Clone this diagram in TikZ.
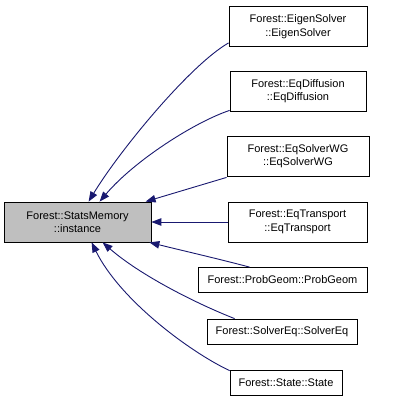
\documentclass[tikz,border=0pt]{standalone}
\usepackage{fontspec}
\setmainfont{Liberation Sans}
\usetikzlibrary{arrows.meta}
\definecolor{edgeblue}{HTML}{191970}
\definecolor{maingray}{HTML}{BFBFBF}
\tikzset{
  box/.style={draw=black, line width=0.8pt, inner sep=0pt, align=center,
    font=\fontsize{11}{13.5}\selectfont, anchor=center},
  tall/.style={minimum height=40pt},
  short/.style={minimum height=25pt},
  edge/.style={draw=edgeblue, line width=0.9pt,
    -{Triangle[length=10pt,width=7.5pt,fill=edgeblue]}}
}
\begin{document}
\begin{tikzpicture}[x=1pt,y=-1pt]
\useasboundingbox[fill=white] (0,0) rectangle (403,401);
\node[box,tall,fill=maingray,minimum width=147pt] (main) at (77.5,222) {Forest::StatsMemory\\::instance};
\node[box,tall,minimum width=138pt] (es) at (298,26.5) {Forest::EigenSolver\\::EigenSolver};
\node[box,tall,minimum width=136pt] (ed) at (298,91) {Forest::EqDiffusion\\::EqDiffusion};
\node[box,tall,minimum width=142pt] (ew) at (298,156) {Forest::EqSolverWG\\::EqSolverWG};
\node[box,tall,minimum width=139pt] (et) at (297.5,222) {Forest::EqTransport\\::EqTransport};
\node[box,short,minimum width=169pt] (pg) at (282.5,280) {Forest::ProbGeom::ProbGeom};
\node[box,short,minimum width=150pt] (se) at (282,331.5) {Forest::SolverEq::SolverEq};
\node[box,short,minimum width=112pt] (st) at (286,382.5) {Forest::State::State};

\draw[edge] ([yshift=4pt]es.south west) .. controls (190,65) and (120,150) .. ([xshift=85pt]main.north west);
\draw[edge] ([yshift=1pt]ed.south west) .. controls (195,122) and (135,160) .. ([xshift=96pt]main.north west);
\draw[edge] ([yshift=-1pt]ew.south west) -- ([xshift=142pt]main.north west);
\draw[edge] (et.west) -- (main.east);
\draw[edge] ([xshift=52pt]pg.north west) .. controls (215,258) and (180,250) .. ([xshift=-2pt]main.south east);
\draw[edge] ([xshift=28pt]se.north west) .. controls (195,303) and (140,275) .. ([xshift=99pt]main.south west);
\draw[edge] ([yshift=-1pt]st.north west) .. controls (190,352) and (120,300) .. ([xshift=88pt]main.south west);
\end{tikzpicture}
\end{document}
